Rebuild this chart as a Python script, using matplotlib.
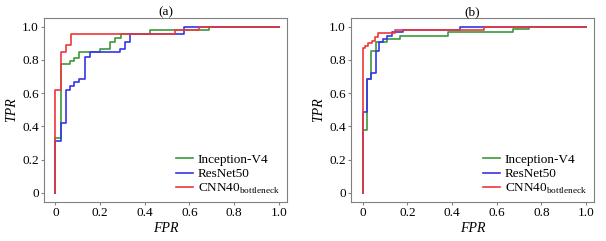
import matplotlib
matplotlib.use("Agg")
import matplotlib.pyplot as plt

# ROC curves (corner points of each staircase)
# panel (a)
fpr_inc_a = [0, 0, 0.025, 0.025, 0.066, 0.066, 0.085, 0.085, 0.107, 0.107, 0.2, 0.2,
             0.243, 0.243, 0.268, 0.268, 0.292, 0.292, 0.423, 0.423, 0.687, 0.687, 1.0]
tpr_inc_a = [0, 0.33, 0.33, 0.778, 0.778, 0.793, 0.793, 0.813, 0.813, 0.845, 0.845, 0.866,
             0.866, 0.91, 0.91, 0.933, 0.933, 0.955, 0.955, 0.977, 0.977, 1.0, 1.0]
fpr_res_a = [0, 0, 0.025, 0.025, 0.047, 0.047, 0.066, 0.066, 0.085, 0.085, 0.104, 0.104,
             0.132, 0.132, 0.155, 0.155, 0.289, 0.289, 0.311, 0.311, 0.333, 0.333,
             0.576, 0.576, 1.0]
tpr_res_a = [0, 0.313, 0.313, 0.42, 0.42, 0.62, 0.62, 0.643, 0.643, 0.665, 0.665, 0.687,
             0.687, 0.82, 0.82, 0.845, 0.845, 0.866, 0.866, 0.91, 0.91, 0.955,
             0.955, 1.0, 1.0]
fpr_cnn_a = [0, 0, 0.025, 0.025, 0.046, 0.046, 0.07, 0.07, 0.534, 0.534, 0.643, 0.643, 1.0]
tpr_cnn_a = [0, 0.62, 0.62, 0.845, 0.845, 0.89, 0.89, 0.955, 0.955, 0.977, 0.977, 1.0, 1.0]

# panel (b)
fpr_inc_b = [0, 0, 0.018, 0.018, 0.036, 0.036, 0.058, 0.058, 0.107, 0.107, 0.167, 0.167,
             0.381, 0.381, 0.671, 0.671, 0.745, 0.745, 1.0]
tpr_inc_b = [0, 0.378, 0.378, 0.685, 0.685, 0.853, 0.853, 0.91, 0.91, 0.924, 0.924, 0.946,
             0.946, 0.966, 0.966, 0.986, 0.986, 1.0, 1.0]
fpr_res_b = [0, 0, 0.018, 0.018, 0.038, 0.038, 0.058, 0.058, 0.074, 0.074, 0.09, 0.09,
             0.107, 0.107, 0.13, 0.13, 0.18, 0.18, 0.436, 0.436, 1.0]
tpr_res_b = [0, 0.488, 0.488, 0.685, 0.685, 0.723, 0.723, 0.853, 0.853, 0.91, 0.91, 0.926,
             0.926, 0.944, 0.944, 0.966, 0.966, 0.982, 0.982, 1.0, 1.0]
fpr_cnn_b = [0, 0, 0.01, 0.01, 0.025, 0.025, 0.04, 0.04, 0.055, 0.055, 0.068, 0.068,
             0.147, 0.147, 0.543, 0.543, 1.0]
tpr_cnn_b = [0, 0.87, 0.87, 0.885, 0.885, 0.9, 0.9, 0.912, 0.912, 0.935, 0.935, 0.962,
             0.962, 0.982, 0.982, 1.0, 1.0]

names = ["Inception-V4", "ResNet50", r"CNN40$_{\mathregular{bottleneck}}$"]
colors = ["#3a9a3a", "#3535e8", "#ee3838"]
ticks = [0, 0.2, 0.4, 0.6, 0.8, 1.0]
tick_labels = ["0", "0.2", "0.4", "0.6", "0.8", "1.0"]

plt.rcParams["font.family"] = ["Liberation Serif", "DejaVu Serif"]
plt.rcParams["mathtext.fontset"] = "custom"
plt.rcParams["mathtext.rm"] = "Liberation Serif"

fig = plt.figure(figsize=(6.06, 2.41), dpi=100)
ax_a = fig.add_axes([0.073, 0.163, 0.40, 0.761])
ax_b = fig.add_axes([0.580, 0.163, 0.40, 0.761])

panels = [
    (ax_a, "(a)", [(fpr_inc_a, tpr_inc_a), (fpr_res_a, tpr_res_a), (fpr_cnn_a, tpr_cnn_a)]),
    (ax_b, "(b)", [(fpr_inc_b, tpr_inc_b), (fpr_res_b, tpr_res_b), (fpr_cnn_b, tpr_cnn_b)]),
]

for ax, title, curves in panels:
    for (x, y), name, c in zip(curves, names, colors):
        ax.plot(x, y, color=c, lw=1.2, label=name)
    ax.set_xlim(-0.05, 1.035)
    ax.set_ylim(-0.054, 1.05)
    ax.set_xticks(ticks)
    ax.set_xticklabels(tick_labels)
    ax.set_yticks(ticks)
    ax.set_yticklabels(tick_labels)
    ax.tick_params(labelsize=9.5, length=2.5, width=0.8, pad=1.5, color="#808080")
    for s in ax.spines.values():
        s.set_color("#808080")
        s.set_linewidth(0.8)
    ax.set_title(title, fontsize=9.5, pad=2)
    ax.set_xlabel("FPR", fontstyle="italic", fontsize=10, labelpad=2)
    ax.set_ylabel("TPR", fontstyle="italic", fontsize=10, labelpad=3)
    ax.legend(loc="lower left", bbox_to_anchor=(0.543, 0.03), frameon=False,
              fontsize=9.5, borderpad=0, borderaxespad=0, handlelength=1.3,
              handletextpad=0.35, labelspacing=0.15)

fig.savefig("out.png", dpi=100)
